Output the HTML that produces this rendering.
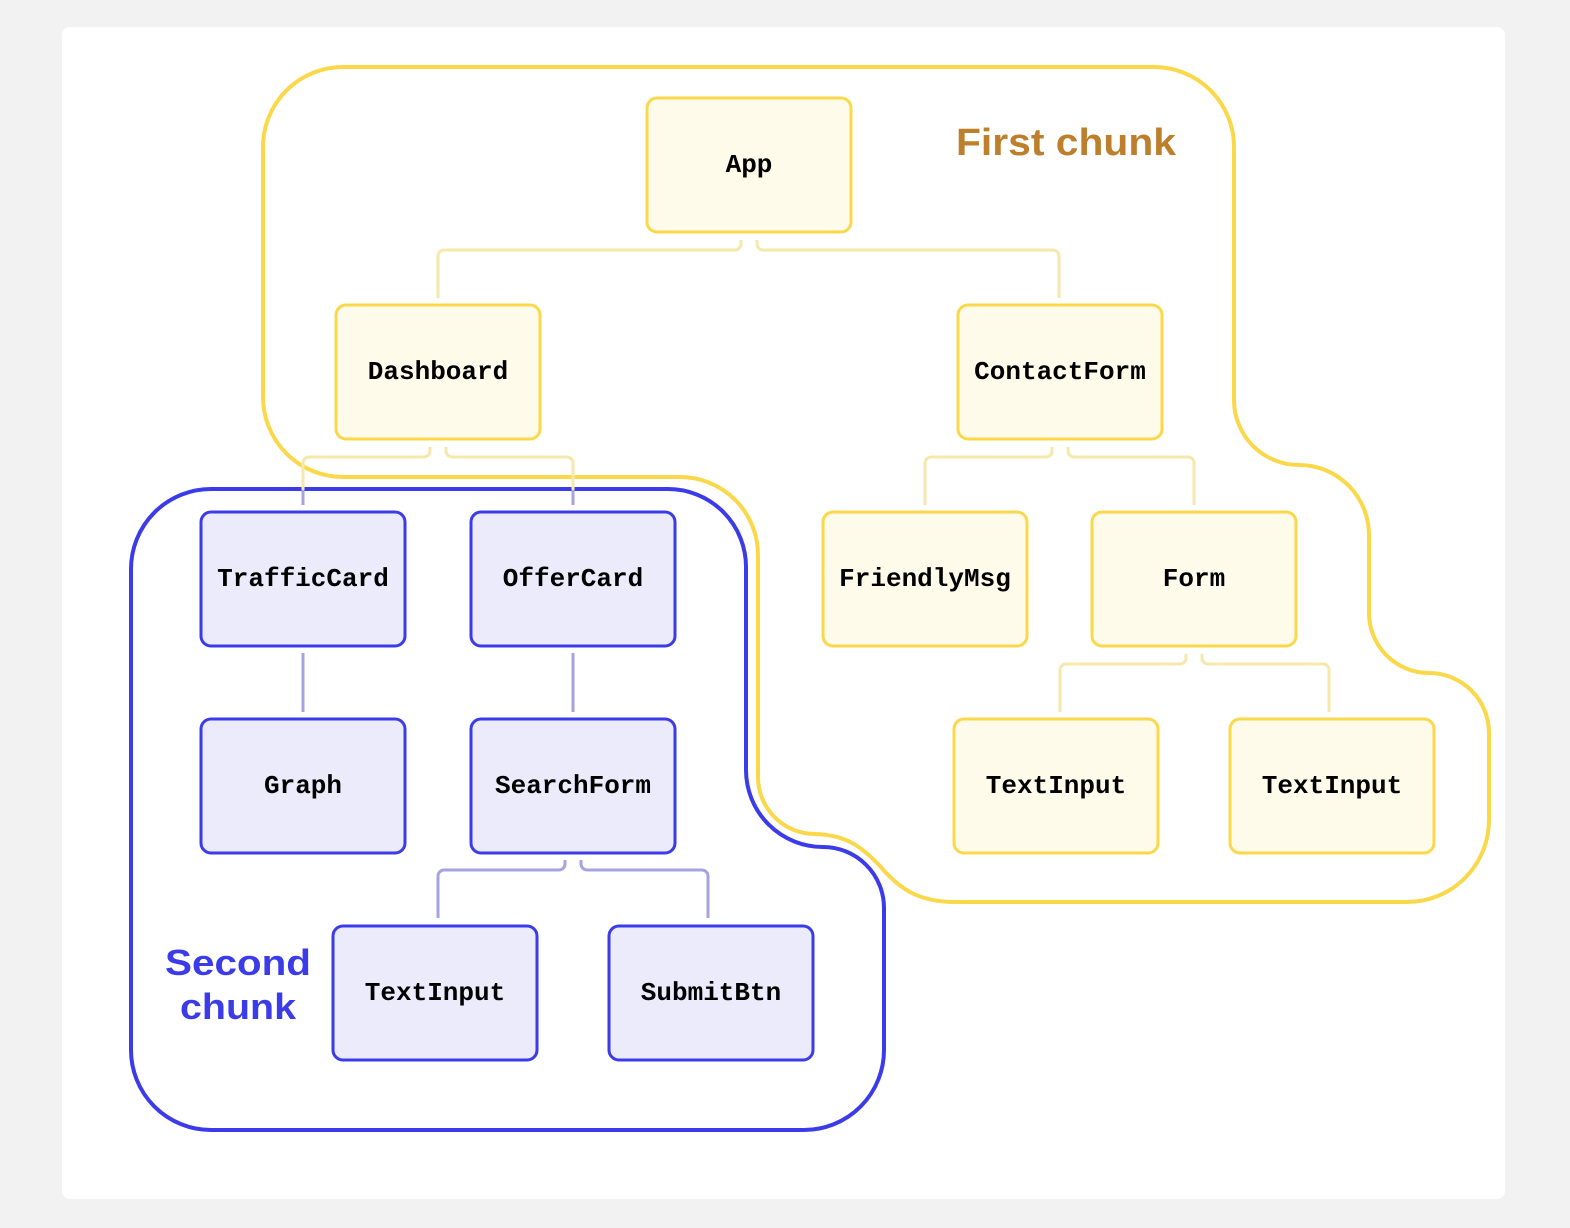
<!DOCTYPE html>
<html><head><meta charset="utf-8"><style>
html,body{margin:0;padding:0;background:#f2f2f2;}
svg{display:block}
.ny rect{fill:#fffbeb;stroke:#fad84a;stroke-width:3}
.nb rect{fill:#ebebfb;stroke:#3b3bea;stroke-width:3}
text.n{font-family:"Liberation Mono",monospace;font-weight:bold;font-size:26px;fill:#000;text-anchor:middle;dominant-baseline:central}
.cy{fill:none;stroke:#f5e8ab;stroke-width:3}
.cb{fill:none;stroke:#a4a4e0;stroke-width:3}
</style></head><body>
<svg width="1570" height="1228" viewBox="0 0 1570 1228" xmlns="http://www.w3.org/2000/svg">
<rect x="62" y="27" width="1443" height="1172" rx="8" fill="#fff"/>
<!-- yellow region -->
<path d="M343 67 H1154 A80 80 0 0 1 1234 147 V400 A65 65 0 0 0 1299 465 A70 70 0 0 1 1369 535 V612 A60 60 0 0 0 1429 673 A60 60 0 0 1 1489 733 V820 A82 82 0 0 1 1407 902 H955 C920 902 900 890 880 866 C860 845 845 835 815 834 A57 57 0 0 1 758 777 V555 A78 78 0 0 0 680 477 H343 A80 80 0 0 1 263 397 V147 A80 80 0 0 1 343 67 Z" fill="none" stroke="#fad84a" stroke-width="4"/>
<!-- blue region -->
<path d="M211 489 H668 A78 78 0 0 1 746 567 V770 A77 77 0 0 0 823 847 A61 61 0 0 1 884 908 V1050 A80 80 0 0 1 804 1130 H211 A80 80 0 0 1 131 1050 V569 A80 80 0 0 1 211 489 Z" fill="none" stroke="#3b3bea" stroke-width="4"/>
<!-- connectors yellow -->
<path class="cy" d="M741 240 V244 A6 6 0 0 1 735 250 H444 A6 6 0 0 0 438 256 V298"/>
<path class="cy" d="M757 240 V244 A6 6 0 0 0 763 250 H1053 A6 6 0 0 1 1059 256 V298"/>
<path class="cy" d="M430 447 V451 A6 6 0 0 1 424 457 H309 A6 6 0 0 0 303 463 V490"/>
<path class="cy" d="M446 447 V451 A6 6 0 0 0 452 457 H567 A6 6 0 0 1 573 463 V490"/>
<path class="cb" d="M303 490 V505 M573 490 V505"/>
<path class="cy" d="M1052 447 V451 A6 6 0 0 1 1046 457 H931 A6 6 0 0 0 925 463 V505"/>
<path class="cy" d="M1068 447 V451 A6 6 0 0 0 1074 457 H1188 A6 6 0 0 1 1194 463 V505"/>
<path class="cy" d="M1186 654 V658 A6 6 0 0 1 1180 664 H1066 A6 6 0 0 0 1060 670 V712"/>
<path class="cy" d="M1202 654 V658 A6 6 0 0 0 1208 664 H1323 A6 6 0 0 1 1329 670 V712"/>
<!-- connectors blue -->
<path class="cb" d="M303 653 V712 M573 653 V712"/>
<path class="cb" d="M565 860 V864 A6 6 0 0 1 559 870 H444 A6 6 0 0 0 438 876 V918"/>
<path class="cb" d="M581 860 V864 A6 6 0 0 0 587 870 H702 A6 6 0 0 1 708 876 V918"/>
<!-- nodes -->
<g class="ny">
<rect x="647" y="98" width="204" height="134" rx="10"/>
<rect x="336" y="305" width="204" height="134" rx="10"/>
<rect x="958" y="305" width="204" height="134" rx="10"/>
<rect x="823" y="512" width="204" height="134" rx="10"/>
<rect x="1092" y="512" width="204" height="134" rx="10"/>
<rect x="954" y="719" width="204" height="134" rx="10"/>
<rect x="1230" y="719" width="204" height="134" rx="10"/>
</g>
<g class="nb">
<rect x="201" y="512" width="204" height="134" rx="10"/>
<rect x="471" y="512" width="204" height="134" rx="10"/>
<rect x="201" y="719" width="204" height="134" rx="10"/>
<rect x="471" y="719" width="204" height="134" rx="10"/>
<rect x="333" y="926" width="204" height="134" rx="10"/>
<rect x="609" y="926" width="204" height="134" rx="10"/>
</g>
<text class="n" x="749" y="165">App</text>
<text class="n" x="438" y="372">Dashboard</text>
<text class="n" x="1060" y="372">ContactForm</text>
<text class="n" x="925" y="579">FriendlyMsg</text>
<text class="n" x="1194" y="579">Form</text>
<text class="n" x="1056" y="786">TextInput</text>
<text class="n" x="1332" y="786">TextInput</text>
<text class="n" x="303" y="579">TrafficCard</text>
<text class="n" x="573" y="579">OfferCard</text>
<text class="n" x="303" y="786">Graph</text>
<text class="n" x="573" y="786">SearchForm</text>
<text class="n" x="435" y="993">TextInput</text>
<text class="n" x="711" y="993">SubmitBtn</text>
<text x="1066" y="155" text-anchor="middle" font-family="'Liberation Sans',sans-serif" font-weight="bold" font-size="38" fill="#bd7f2c" textLength="220" lengthAdjust="spacingAndGlyphs">First chunk</text>
<text x="238" y="975" text-anchor="middle" font-family="'Liberation Sans',sans-serif" font-weight="bold" font-size="36" fill="#3b3bea" textLength="146" lengthAdjust="spacingAndGlyphs">Second</text>
<text x="238" y="1019" text-anchor="middle" font-family="'Liberation Sans',sans-serif" font-weight="bold" font-size="36" fill="#3b3bea" textLength="116" lengthAdjust="spacingAndGlyphs">chunk</text>
</svg>
</body></html>
